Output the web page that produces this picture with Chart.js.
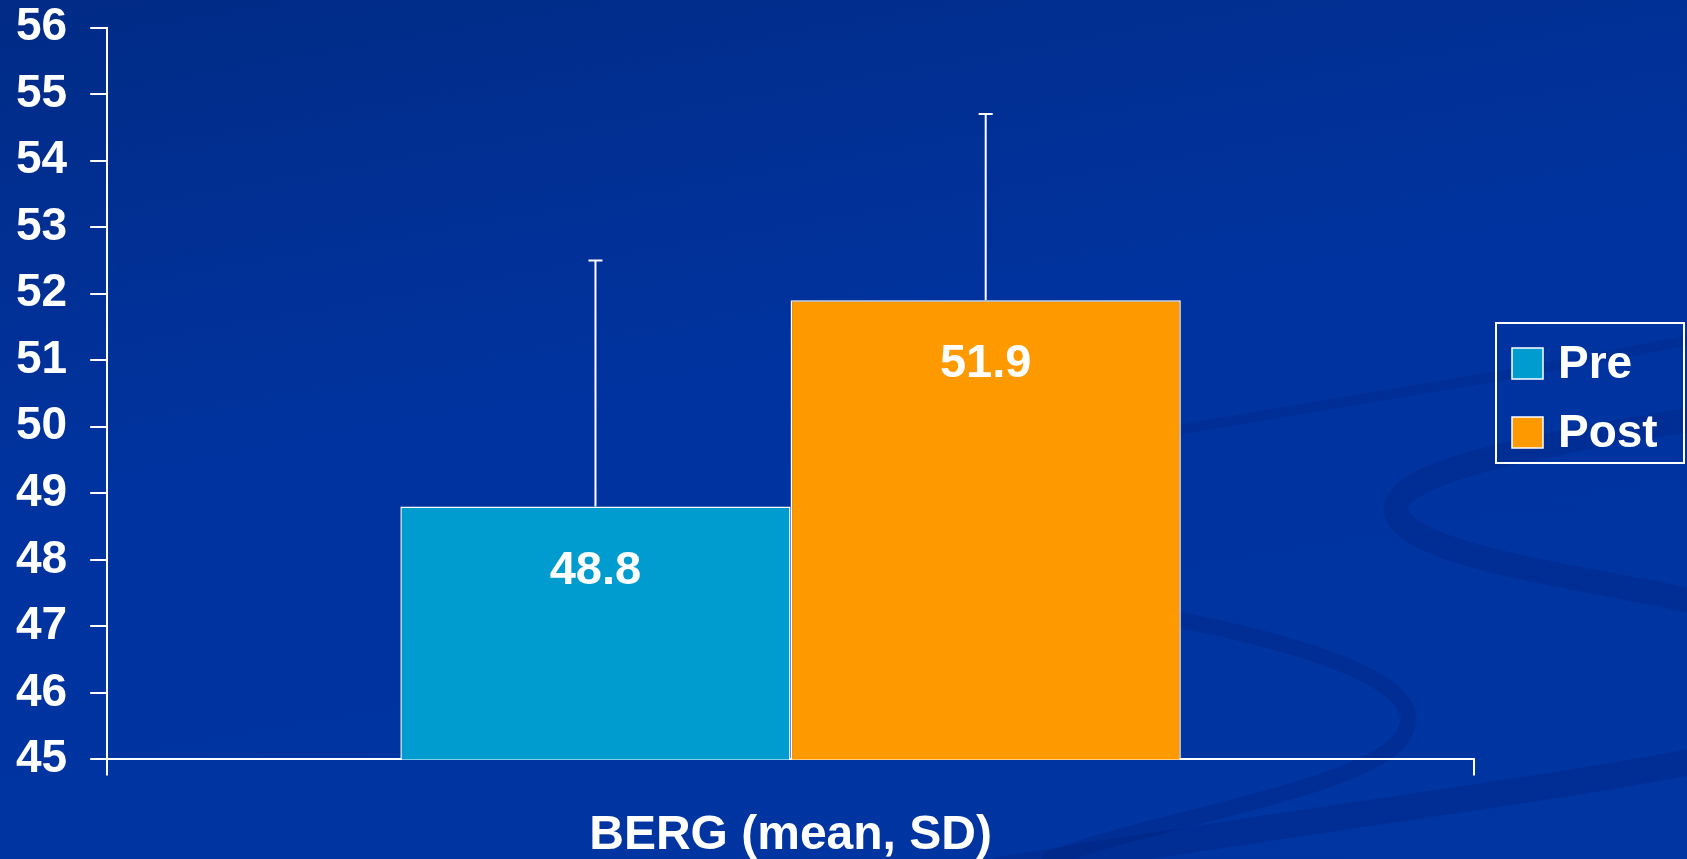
<!DOCTYPE html>
<html>
<head>
<meta charset="utf-8">
<script src="https://cdn.jsdelivr.net/npm/chart.js@4.4.1/dist/chart.umd.min.js"></script>
<style>
  html, body { margin: 0; padding: 0; }
  body {
    width: 1687px; height: 859px; overflow: hidden;
    background: linear-gradient(170deg, #012b86 0%, #0033a0 45%, #0035a2 100%);
  }
  #wrap { position: relative; width: 1687px; height: 859px; }
</style>
</head>
<body>
<div id="wrap"><canvas id="chart" width="1687" height="859"></canvas></div>
<script>
var categories = ["BERG (mean, SD)"];
var seriesNames = ["Pre", "Post"];
var preMean = [48.8];
var postMean = [51.9];
var preSD = [3.7];
var postSD = [2.8];
var yTicks = [45, 46, 47, 48, 49, 50, 51, 52, 53, 54, 55, 56];

var font = "'Liberation Sans', Arial, sans-serif";

// faint swooshes of the slide template
const backdrop = {
    id: 'backdrop',
    beforeDraw(chart) {
        const ctx = chart.ctx;
        ctx.save();
        ctx.strokeStyle = 'rgba(0, 28, 110, 0.25)';
        ctx.lineCap = 'round';
        ctx.lineWidth = 24;
        ctx.beginPath();
        ctx.moveTo(1687, 420);
        ctx.bezierCurveTo(1500, 450, 1370, 480, 1400, 520);
        ctx.bezierCurveTo(1430, 560, 1600, 580, 1687, 600);
        ctx.stroke();
        ctx.lineWidth = 16;
        ctx.beginPath();
        ctx.moveTo(1180, 620);
        ctx.bezierCurveTo(1330, 650, 1440, 690, 1400, 740);
        ctx.bezierCurveTo(1360, 790, 1150, 820, 1050, 859);
        ctx.stroke();
        ctx.lineWidth = 26;
        ctx.beginPath();
        ctx.moveTo(1000, 870);
        ctx.bezierCurveTo(1300, 820, 1550, 790, 1700, 760);
        ctx.stroke();
        ctx.lineWidth = 10;
        ctx.strokeStyle = 'rgba(0, 28, 110, 0.18)';
        ctx.beginPath();
        ctx.moveTo(1180, 430);
        ctx.bezierCurveTo(1350, 400, 1550, 370, 1687, 340);
        ctx.stroke();
        ctx.restore();
    }
};

// upper SD whiskers
const errorBars = {
    id: 'errorBars',
    afterDatasetsDraw(chart) {
        const ctx = chart.ctx;
        const y = chart.scales.y;
        const sds = [preSD, postSD];
        ctx.save();
        ctx.strokeStyle = '#ffffff';
        ctx.lineWidth = 2;
        chart.data.datasets.forEach((ds, di) => {
            chart.getDatasetMeta(di).data.forEach((bar, i) => {
                const top = y.getPixelForValue(ds.data[i] + sds[di][i]);
                ctx.beginPath();
                ctx.moveTo(bar.x, bar.y);
                ctx.lineTo(bar.x, top);
                ctx.moveTo(bar.x - 7, top);
                ctx.lineTo(bar.x + 7, top);
                ctx.stroke();
            });
        });
        ctx.restore();
    }
};

// value labels inside bars
const valueLabels = {
    id: 'valueLabels',
    afterDatasetsDraw(chart) {
        const ctx = chart.ctx;
        ctx.save();
        ctx.fillStyle = '#ffffff';
        ctx.font = "bold 47px " + font;
        ctx.textAlign = 'center';
        ctx.textBaseline = 'middle';
        chart.data.datasets.forEach((ds, di) => {
            chart.getDatasetMeta(di).data.forEach((bar, i) => {
                ctx.fillText(ds.data[i].toFixed(1), bar.x, bar.y + 64);
            });
        });
        ctx.restore();
    }
};

// boxed legend at the right
const boxLegend = {
    id: 'boxLegend',
    afterDraw(chart) {
        const ctx = chart.ctx;
        ctx.save();
        ctx.strokeStyle = '#ffffff';
        ctx.lineWidth = 2;
        ctx.strokeRect(1496, 323, 188, 140);
        ctx.font = "bold 46px " + font;
        ctx.textBaseline = 'middle';
        chart.data.datasets.forEach((ds, di) => {
            const top = 348 + di * 69;
            ctx.fillStyle = ds.backgroundColor;
            ctx.fillRect(1512, top, 31, 31);
            ctx.lineWidth = 1.5;
            ctx.strokeRect(1512, top, 31, 31);
            ctx.fillStyle = '#ffffff';
            ctx.fillText(ds.label, 1558, top + 17);
        });
        ctx.restore();
    }
};

var config = {
    type: 'bar',
    data: {
        labels: categories,
        datasets: [{
            label: seriesNames[0],
            data: preMean,
            backgroundColor: '#009ccf',
            borderColor: '#ffffff',
            borderWidth: 1.5,
            borderSkipped: false
        },
        {
            label: seriesNames[1],
            data: postMean,
            backgroundColor: '#ff9900',
            borderColor: '#ffffff',
            borderWidth: 1.5,
            borderSkipped: false
        }]
    },
    options: {
        responsive: false,
        animation: false,
        events: [],
        categoryPercentage: 0.571,
        barPercentage: 1.0,
        layout: { padding: { left: -7, right: 213, top: 0, bottom: -38 } },
        plugins: { legend: { display: false }, tooltip: { enabled: false } },
        scales: {
            x: {
                ticks: { color: '#ffffff', padding: 32, font: { family: font, size: 48, weight: 'bold' } },
                grid: { drawOnChartArea: false, color: '#ffffff', lineWidth: 2, tickLength: 16, offset: true },
                border: { color: '#ffffff', width: 2 }
            },
            y: {
                min: yTicks[0],
                max: yTicks[yTicks.length - 1],
                afterBuildTicks(scale) { scale.ticks = yTicks.map(v => ({ value: v })); },
                ticks: { color: '#ffffff', padding: 23, font: { family: font, size: 46, weight: 'bold', lineHeight: 0.2 } },
                grid: { drawOnChartArea: false, color: '#ffffff', lineWidth: 2, tickLength: 17 },
                border: { color: '#ffffff', width: 2 }
            }
        }
    },
    plugins: [backdrop, errorBars, valueLabels, boxLegend]
};

var chart = new Chart(document.getElementById('chart'), config);
</script>
</body>
</html>
